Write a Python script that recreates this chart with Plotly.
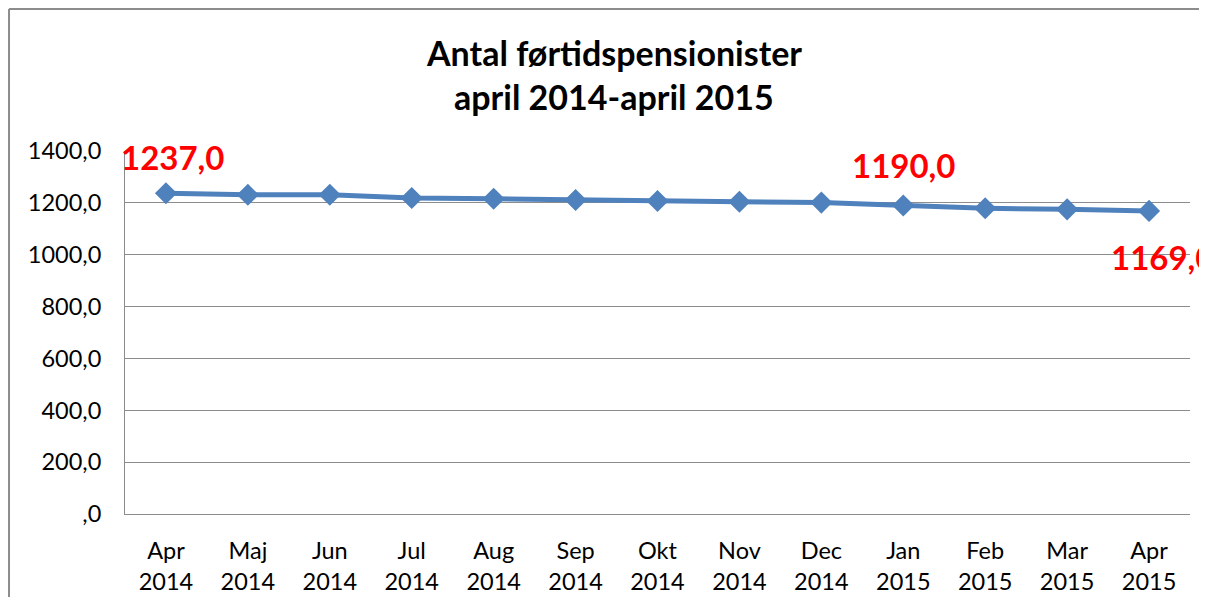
import plotly.graph_objects as go

months = ["Apr<br>2014", "Maj<br>2014", "Jun<br>2014", "Jul<br>2014", "Aug<br>2014", "Sep<br>2014",
          "Okt<br>2014", "Nov<br>2014", "Dec<br>2014", "Jan<br>2015", "Feb<br>2015", "Mar<br>2015", "Apr<br>2015"]
values = [1237, 1231, 1231, 1219, 1216, 1211, 1207, 1204, 1201, 1190, 1179, 1175, 1169]
ytick_vals = [0, 200, 400, 600, 800, 1000, 1200, 1400]
ytick_text = [",0", "200,0", "400,0", "600,0", "800,0", "1000,0", "1200,0", "1400,0"]
labelled = [(0, 7, 36), (9, 0, 40), (12, 13, -46)]

FONT = "Lato"
BLUE = "#4f81bd"

fig = go.Figure()
fig.add_trace(go.Scatter(
    x=list(range(len(months))), y=values, mode="lines+markers",
    line=dict(color=BLUE, width=5),
    marker=dict(symbol="diamond", size=17, color=BLUE),
    hoverinfo="skip", showlegend=False, cliponaxis=False,
))

for idx, dx, dy in labelled:
    fig.add_annotation(x=idx, y=values[idx], xref="x", yref="y",
                       text=f"{values[idx]},0", showarrow=False,
                       xshift=dx, yshift=dy, xanchor="center", yanchor="middle",
                       font=dict(family=FONT, size=33, color="#ff0000", weight="bold"))

fig.add_annotation(x=0.459, y=1.270, xref="paper", yref="paper", text="Antal førtidspensionister",
                   showarrow=False, xanchor="center", yanchor="middle",
                   font=dict(family=FONT, size=34, color="black", weight="bold"))
fig.add_annotation(x=0.459, y=1.149, xref="paper", yref="paper", text="april 2014-april 2015",
                   showarrow=False, xanchor="center", yanchor="middle",
                   font=dict(family=FONT, size=34, color="black", weight="bold"))

# outer frame: left and top sides only are visible in the reference
fig.add_shape(type="line", xref="paper", yref="paper", x0=-0.1089, x1=-0.1089, y0=-0.5, y1=1.391,
              line=dict(color="#8c8c8c", width=2))
fig.add_shape(type="line", xref="paper", yref="paper", x0=-0.1089, x1=1.2, y0=1.391, y1=1.391,
              line=dict(color="#8c8c8c", width=2))

fig.update_layout(
    width=1191, height=589,
    margin=dict(l=117, r=9, t=143, b=83, autoexpand=False),
    paper_bgcolor="white", plot_bgcolor="white",
    font=dict(family=FONT, size=23.5, color="black"),
    xaxis=dict(
        tickmode="array", tickvals=list(range(len(months))), ticktext=months,
        range=[-0.5, len(months) - 0.5], showgrid=False, zeroline=False,
        showline=True, linecolor="#8c8c8c", linewidth=1, automargin=False,
        ticks="outside", ticklen=16, tickcolor="rgba(0,0,0,0)",
    ),
    yaxis=dict(
        range=[0, 1400], tickmode="array", tickvals=ytick_vals, ticktext=ytick_text,
        showgrid=True, gridcolor="#8c8c8c", gridwidth=1, zeroline=False,
        showline=True, linecolor="#8c8c8c", linewidth=1, automargin=False,
        ticks="outside", ticklen=18, tickcolor="rgba(0,0,0,0)",
    ),
)

fig.write_html("out.html")
